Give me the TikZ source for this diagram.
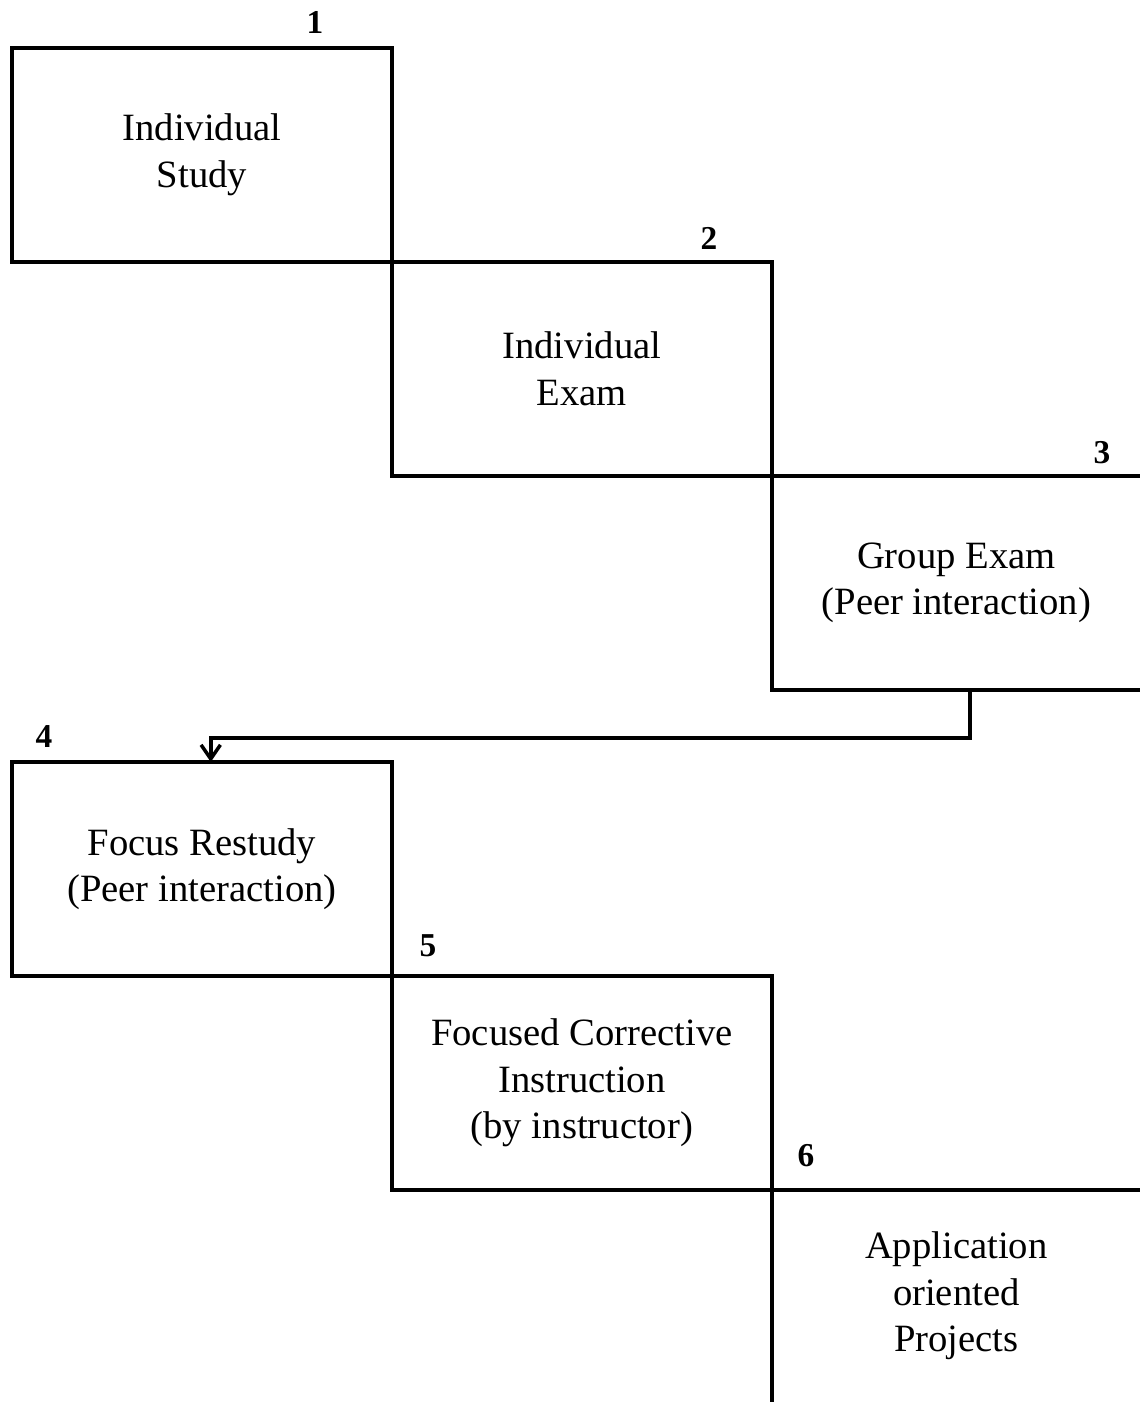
\documentclass[tikz,border=0pt]{standalone}
\usepackage{fontspec}
\setmainfont{Liberation Serif}
\usetikzlibrary{arrows.meta,positioning}
\tikzset{
    caja/.style={draw, line width=2pt, minimum width=7.6cm, minimum height=4.28cm,
        inner sep=0pt, outer sep=0pt, align=center, font=\fontsize{22}{26.5}\selectfont},
    abierta/.style={caja, draw=none},
    linea/.style={line width=2pt},
    num/.style={font=\fontsize{19}{22}\selectfont\bfseries},
}
\begin{document}
\begin{tikzpicture}[x=0.02cm, y=-0.02cm]
    \useasboundingbox (0,0) rectangle (1139,1402);
    % Cajas
    \node[caja, anchor=north west] (estudio) at (12,48) {Individual\\Study};
    \node[caja, anchor=north west] (examen) at (estudio.south east) {Individual\\Exam};
    \node[abierta, anchor=north west, minimum width=7.38cm] (grupo) at (examen.south east)
        {Group Exam\\(Peer interaction)};
    \draw[linea] (grupo.north east) -- (grupo.north west) -- (grupo.south west) -- (grupo.south east);
    \node[caja, anchor=north west] (repaso) at (12,762) {Focus Restudy\\(Peer interaction)};
    \node[caja, anchor=north west] (instr) at (repaso.south east)
        {Focused Corrective\\Instruction\\(by instructor)};
    \node[abierta, anchor=north west, minimum width=7.38cm, minimum height=4.24cm] (proy)
        at (instr.south east) {Application\\oriented\\Projects};
    \draw[linea] (proy.north east) -- (proy.north west) -- (proy.south west);
    % Flecha de vuelta
    \coordinate (salida) at (970,688);
    \draw[linea, -{Straight Barb[length=8pt, width=11pt]}]
        (salida) -- ++(0,50) -| ([xshift=5]repaso.north);
    % Numeros
    \node[num] (n1) at (315,22) {1};
    \node[num] (n2) at (709,238) {2};
    \node[num] (n3) at (1102,453) {3};
    \node[num] (n4) at (44,737) {4};
    \node[num] (n5) at (428,946) {5};
    \node[num] (n6) at (806,1156) {6};
\end{tikzpicture}
\end{document}
